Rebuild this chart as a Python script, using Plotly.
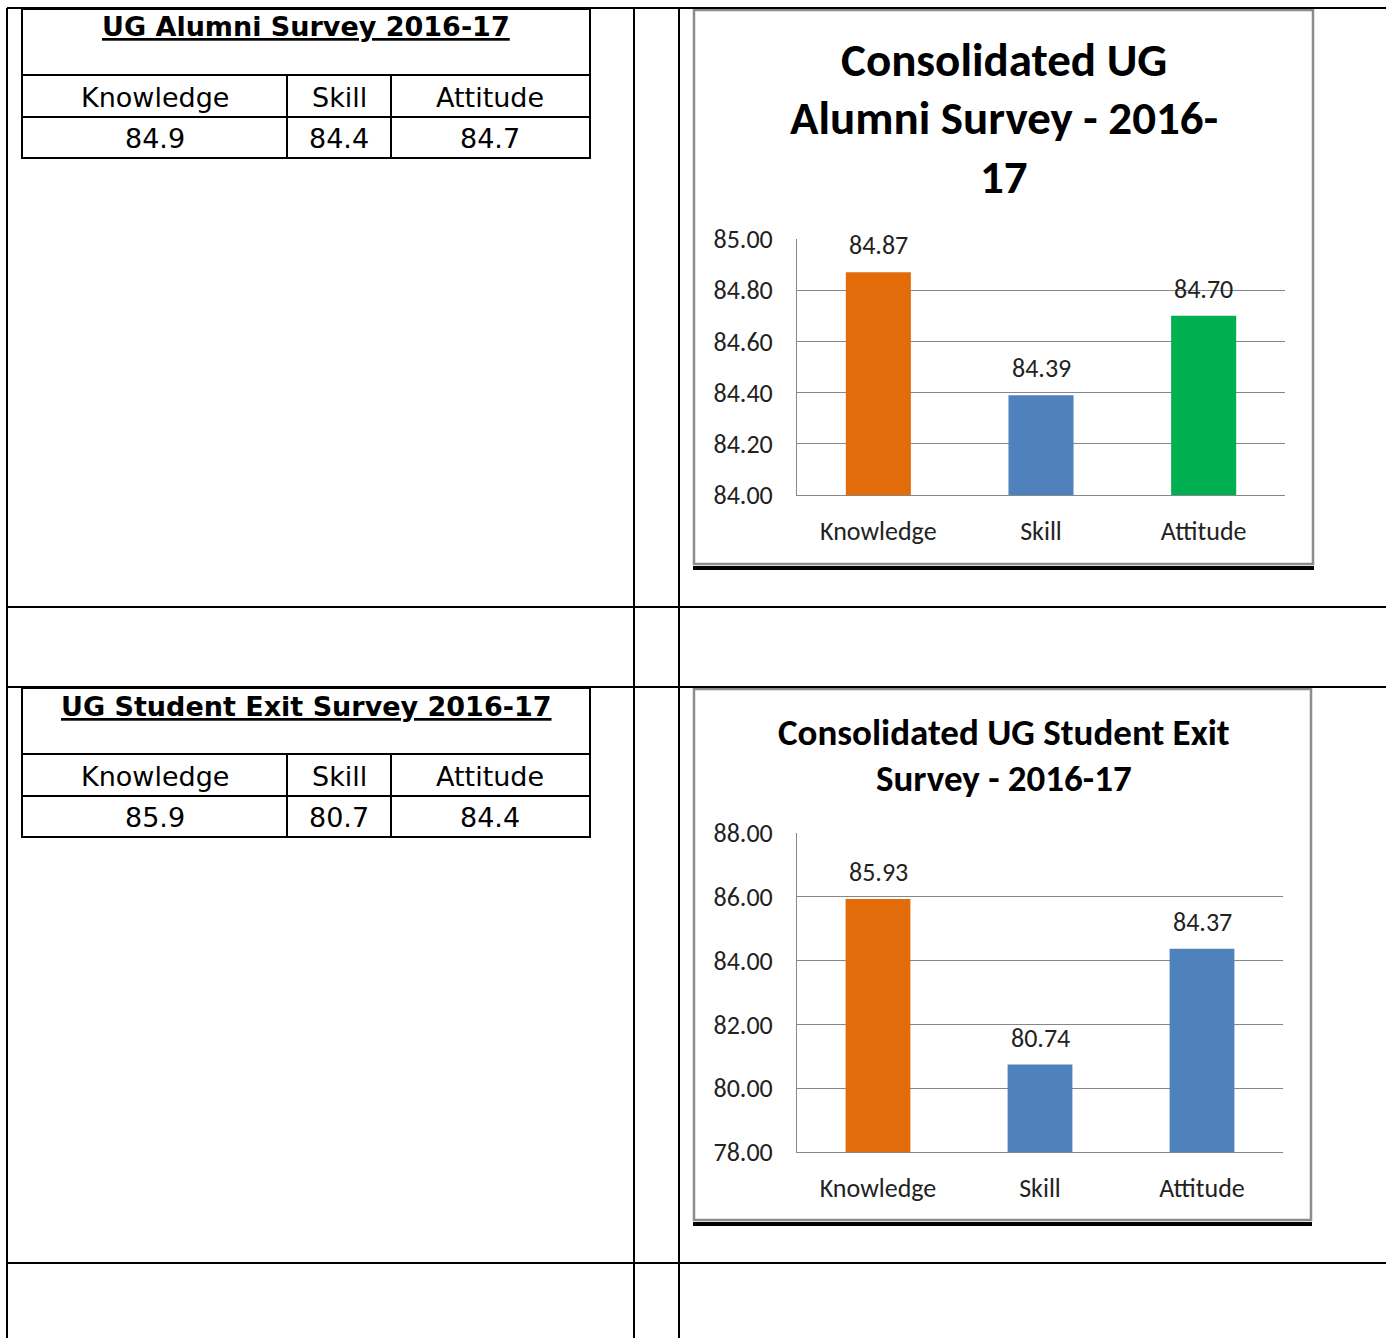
import plotly.graph_objects as go

W, H = 1386, 1338

# ---------------- data ----------------
categories = ["Knowledge", "Skill", "Attitude"]

alumni_title = "UG Alumni Survey 2016-17"
alumni_table_values = ["84.9", "84.4", "84.7"]
alumni_chart_title = ["Consolidated UG", "Alumni Survey - 2016-", "17"]
alumni_values = [84.87, 84.39, 84.70]
alumni_colors = ["#E36C0A", "#4F81BD", "#00B050"]
alumni_range = [84.0, 85.0]
alumni_dtick = 0.2

exit_title = "UG Student Exit Survey 2016-17"
exit_table_values = ["85.9", "80.7", "84.4"]
exit_chart_title = ["Consolidated UG Student Exit", "Survey - 2016-17"]
exit_values = [85.93, 80.74, 84.37]
exit_colors = ["#E36C0A", "#4F81BD", "#4F81BD"]
exit_range = [78.0, 88.0]
exit_dtick = 2


def X(px):
    return px / W


def Y(py):
    return 1 - py / H


CH_FONT = "Carlito, Lato, sans-serif"
TB_FONT = "Verdana, 'DejaVu Sans', sans-serif"
GRID = "#878787"
TXT = "#222222"

fig = go.Figure()
shapes = []
annotations = []


def line(x0, y0, x1, y1, w=2, c="black"):
    shapes.append(dict(type="line", xref="paper", yref="paper",
                       x0=X(x0), y0=Y(y0), x1=X(x1), y1=Y(y1),
                       line=dict(color=c, width=w)))


# ---------------- document grid ----------------
line(7, 8, 7, H + 5)
line(7, 8, W + 5, 8)
line(634, 8, 634, H + 5)
line(679, 8, 679, H + 5)
line(7, 607, W + 5, 607)
line(7, 687, W + 5, 687)
line(7, 1263, W + 5, 1263)


# ---------------- tables ----------------
def table(top, title, values):
    left, right = 22, 590
    r1, r2, bottom = top + 66, top + 108, top + 149
    c1, c2 = 287, 391
    shapes.append(dict(type="rect", xref="paper", yref="paper",
                       x0=X(left), y0=Y(bottom), x1=X(right), y1=Y(top),
                       line=dict(color="black", width=2)))
    line(left, r1, right, r1)
    line(left, r2, right, r2)
    line(c1, r1, c1, bottom)
    line(c2, r1, c2, bottom)
    annotations.append(dict(xref="paper", yref="paper", x=X((left + right) / 2), y=Y(top + 18),
                            text=f"<b><u>{title}</u></b>", showarrow=False,
                            font=dict(family=TB_FONT, size=27, color="black"),
                            xanchor="center", yanchor="middle"))
    centers = [(left + c1) / 2, (c1 + c2) / 2, (c2 + right) / 2]
    for cx, cat, val in zip(centers, categories, values):
        annotations.append(dict(xref="paper", yref="paper", x=X(cx), y=Y((r1 + r2) / 2 + 1),
                                text=cat, showarrow=False,
                                font=dict(family=TB_FONT, size=27, color="black"),
                                xanchor="center", yanchor="middle"))
        annotations.append(dict(xref="paper", yref="paper", x=X(cx), y=Y((r2 + bottom) / 2 + 1),
                                text=val, showarrow=False,
                                font=dict(family=TB_FONT, size=27, color="black"),
                                xanchor="center", yanchor="middle"))


table(9, alumni_title, alumni_table_values)
table(688, exit_title, exit_table_values)


# ---------------- charts ----------------
def chart(idx, frame, plot, title_lines, title_ys, title_size, values, colors, rng, dtick):
    fx0, fy0, fx1, fy1 = frame
    shapes.append(dict(type="rect", xref="paper", yref="paper", layer="below",
                       x0=X(fx0), y0=Y(fy1), x1=X(fx1), y1=Y(fy0),
                       line=dict(color="#8C8C8C", width=2.5), fillcolor="white"))
    line(fx0 - 1, fy1 + 4, fx1 + 1, fy1 + 4, w=4)
    for t, ty in zip(title_lines, title_ys):
        annotations.append(dict(xref="paper", yref="paper", x=X((fx0 + fx1) / 2 + 1), y=Y(ty),
                                text=f"<b>{t}</b>", showarrow=False,
                                font=dict(family=CH_FONT, size=title_size, color="black"),
                                xanchor="center", yanchor="middle"))
    px0, py0, px1, py1 = plot
    xa = "x" if idx == 1 else f"x{idx}"
    ya = "y" if idx == 1 else f"y{idx}"
    fig.add_trace(go.Bar(x=categories, y=values, marker=dict(color=colors, line=dict(width=0)),
                         width=0.4, xaxis=xa, yaxis=ya, showlegend=False, hoverinfo="x+y"))
    for c, v in zip(categories, values):
        annotations.append(dict(xref=xa, yref=ya, x=c, y=v, text=f"{v:.2f}", showarrow=False,
                                yanchor="bottom", yshift=9,
                                font=dict(family=CH_FONT, size=26, color=TXT)))
    xk = "xaxis" if idx == 1 else f"xaxis{idx}"
    yk = "yaxis" if idx == 1 else f"yaxis{idx}"
    fig.update_layout(**{
        xk: dict(domain=[X(px0), X(px1)], anchor=ya, type="category", automargin=False,
                 showline=True, linecolor=GRID, linewidth=1, showgrid=False,
                 ticks="", ticklabelstandoff=13,
                 tickfont=dict(family=CH_FONT, size=26, color=TXT)),
        yk: dict(domain=[Y(py1), Y(py0)], anchor=xa, range=rng, dtick=dtick, automargin=False,
                 tickformat=".2f", showline=True, linecolor=GRID, linewidth=1,
                 showgrid=True, gridcolor=GRID, gridwidth=1, zeroline=False,
                 ticks="", ticklabelstandoff=18,
                 tickfont=dict(family=CH_FONT, size=26, color=TXT)),
    })


chart(1, (694, 10, 1313, 564), (797, 239, 1285, 495),
      alumni_chart_title, [60, 118, 177], 47, alumni_values, alumni_colors, alumni_range, alumni_dtick)
chart(2, (694, 689, 1311, 1220), (797, 833, 1283, 1152),
      exit_chart_title, [733, 778], 37, exit_values, exit_colors, exit_range, exit_dtick)

fig.update_layout(width=W, height=H, margin=dict(l=0, r=0, t=0, b=0, autoexpand=False),
                  paper_bgcolor="white", plot_bgcolor="rgba(0,0,0,0)",
                  shapes=shapes, annotations=annotations, bargap=0.6)

fig.write_html("out.html", config={"displayModeBar": False},
               post_script="document.body.style.margin='0';")
